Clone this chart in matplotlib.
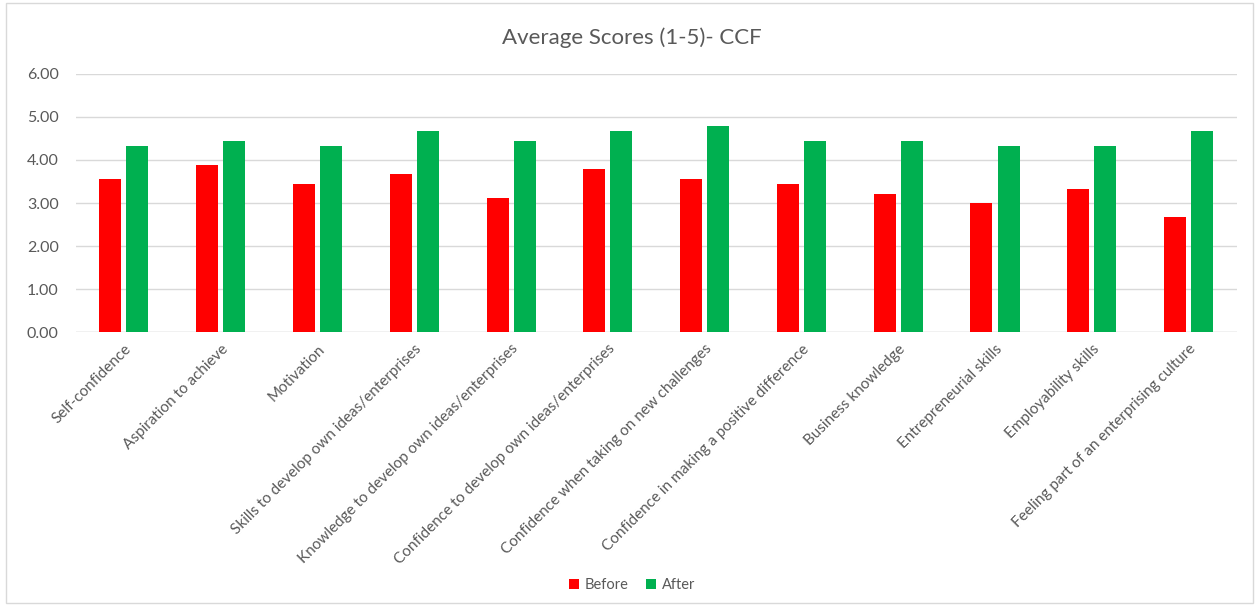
import matplotlib.pyplot as plt
import numpy as np
from matplotlib.patches import Rectangle

# data
categories = ['Self-confidence', 'Aspiration to achieve', 'Motivation',
              'Skills to develop own ideas/enterprises',
              'Knowledge to develop own ideas/enterprises',
              'Confidence to develop own ideas/enterprises',
              'Confidence when taking on new challenges',
              'Confidence in making a positive difference',
              'Business knowledge', 'Entrepreneurial skills',
              'Employability skills', 'Feeling part of an enterprising culture']
before = [3.56, 3.89, 3.44, 3.67, 3.11, 3.78, 3.56, 3.44, 3.22, 3.00, 3.33, 2.67]
after = [4.33, 4.44, 4.33, 4.67, 4.44, 4.67, 4.78, 4.44, 4.44, 4.33, 4.33, 4.67]

plt.rcParams['font.family'] = ['Lato', 'DejaVu Sans']
grey = '#595959'

fig = plt.figure(figsize=(12.59, 6.06), dpi=100)
ax = fig.add_axes([0.06, 0.452, 0.9225, 0.426])

index = np.arange(len(categories))
bw = 0.227
ax.bar(index - 0.14, before, bw, color='#FF0000', label='Before', zorder=3)
ax.bar(index + 0.14, after, bw, color='#00B050', label='After', zorder=3)

ax.set_xlim(-0.5, len(categories) - 0.5)
ax.set_ylim(0, 6)
ax.set_yticks(np.arange(0, 6.01, 1))
ax.set_yticklabels(['%.2f' % v for v in np.arange(0, 6.01, 1)], color=grey, fontsize=11.5)
ax.yaxis.grid(True, color='#D9D9D9', linewidth=1, zorder=0)
ax.set_xticks(index)
ax.set_xticklabels(categories, rotation=45, ha='right', rotation_mode='anchor',
                   color=grey, fontsize=11)
ax.tick_params(axis='x', length=0, pad=7)
ax.tick_params(axis='y', length=0, pad=12)
for s in ax.spines.values():
    s.set_visible(False)
ax.axhline(0, color='#D9D9D9', linewidth=1, zorder=2)

fig.text(0.502, 0.937, 'Average Scores (1-5)- CCF', ha='center', va='center',
         fontsize=16, color=grey)
fig.legend(loc='center', bbox_to_anchor=(0.502, 0.034), ncol=2, frameon=False,
           fontsize=10.5, labelcolor=grey, handlelength=0.7, handleheight=0.7,
           handletextpad=0.4, columnspacing=1.2)

fig.patches.append(Rectangle((0.005, 0.005), 0.99, 0.99, transform=fig.transFigure,
                             fill=False, edgecolor='#D9D9D9', linewidth=1))

fig.savefig('out.png', dpi=100)
